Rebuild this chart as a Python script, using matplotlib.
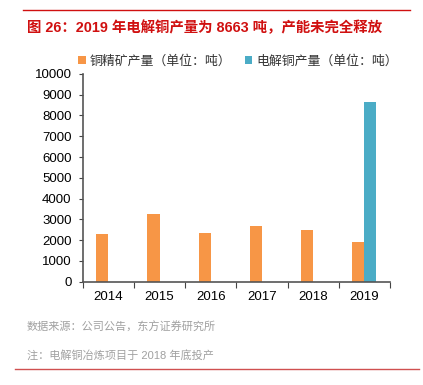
import numpy as np
import matplotlib
matplotlib.use("Agg")
import matplotlib.pyplot as plt
from matplotlib.lines import Line2D

plt.rcParams['font.family'] = ['Liberation Sans', 'Noto Sans CJK SC', 'DejaVu Sans']

years = ['2014', '2015', '2016', '2017', '2018', '2019']
ore = [2300, 3270, 2340, 2680, 2470, 1910]
cathode = [0, 0, 0, 0, 0, 8663]
yticks = np.arange(0, 10001, 1000)

orange = '#F79646'
blue = '#4BACC6'

fig = plt.figure(figsize=(4.23, 3.85), dpi=100)
ax = fig.add_axes([0.1955, 0.2683, 0.7265, 0.5397])

x = np.arange(len(years))
w = 0.235
ax.bar(x - w / 2, ore, w, color=orange, label='铜精矿产量（单位：吨）')
ax.bar(x + w / 2, cathode, w, color=blue, label='电解铜产量（单位：吨）')

ax.set_xlim(-0.5, len(years) - 0.5)
ax.set_ylim(0, 10000)
ax.set_yticks(yticks)
ax.set_yticklabels([str(v) for v in yticks], fontsize=9.5)
ax.set_xticks(np.arange(-0.5, len(years), 1.0))
ax.set_xticklabels([])
ax.set_xticks(x, minor=True)
ax.set_xticklabels(years, minor=True, fontsize=9.5)
ax.tick_params(axis='x', which='minor', length=0, pad=7)
ax.tick_params(axis='x', which='major', length=4, color='#444444')
ax.tick_params(axis='y', length=3, color='#444444', pad=5)
for s in ['top', 'right']:
    ax.spines[s].set_visible(False)
for s in ['left', 'bottom']:
    ax.spines[s].set_color('#555555')
    ax.spines[s].set_linewidth(1.2)

ax.legend(loc='lower left', bbox_to_anchor=(-0.035, 1.0), ncol=2, frameon=False,
          fontsize=9.3, handlelength=0.6, handleheight=0.6, handletextpad=0.3,
          columnspacing=1.0, borderaxespad=0.1, labelcolor='#333333')

fig.text(0.064, 0.928, '图 26：2019 年电解铜产量为 8663 吨，产能未完全释放',
         color='#D01010', fontsize=10.4, fontweight='bold', va='center')
fig.add_artist(Line2D([0.054, 0.97], [0.974, 0.974], color='#D01010', lw=1))
fig.text(0.064, 0.150, '数据来源：公司公告，东方证券研究所', color='#A0A0A0',
         fontsize=8, va='center')
fig.text(0.064, 0.078, '注：电解铜冶炼项目于 2018 年底投产', color='#A0A0A0',
         fontsize=8, va='center')
fig.add_artist(Line2D([0.036, 0.99], [0.042, 0.042], color='#D05050', lw=1))

fig.savefig('out.png', dpi=100)
